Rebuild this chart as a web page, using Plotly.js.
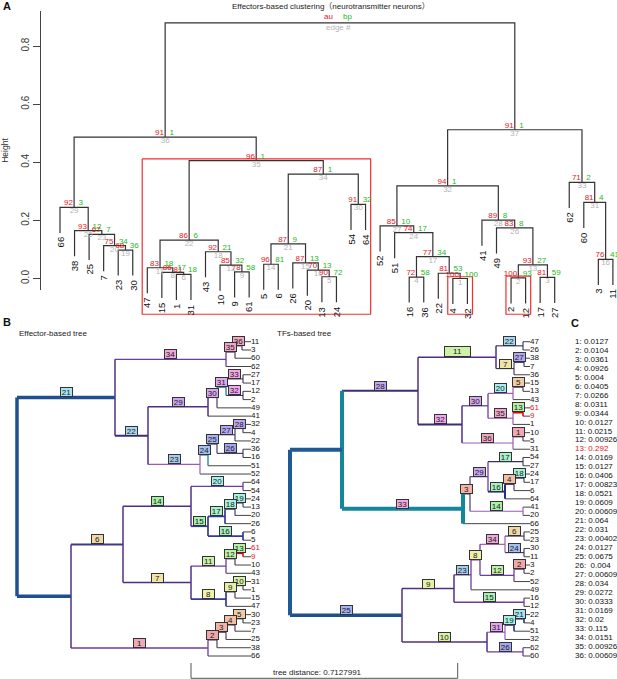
<!DOCTYPE html>
<html><head><meta charset="utf-8">
<script src="https://cdn.plot.ly/plotly-3.0.1.min.js"></script>
<style>html,body{margin:0;padding:0;background:#fff}#chart{width:617px;height:679px}</style>
</head><body><div id="chart"></div>
<script>
// ================= DATA =================
// Panel A: pvclust dendrogram. Merge table (R hclust style: negative = leaf label), row i = edge i
const aMerge = [
 [-4,-32],[-2,-12],[-17,-27],[-16,-36],[-13,-24],[-1,-31],[-22,1],[-15,6],[-9,-61],[-20,5],
 [-47,8],[-10,9],[2,3],[-5,-6],[-26,10],[-3,-11],[4,7],[-43,12],[-23,-30],[-7,19],
 [14,15],[11,18],[-25,20],[-51,17],[-38,23],[-49,13],[-52,24],[-41,26],[-66,25],[-54,-64],
 [-60,16],[27,28],[-62,31],[21,30],[22,34],[29,35],[32,33],[36,37]
];
const aHeight = [0.000,0.002,0.004,0.005,0.006,0.014,0.018,0.021,0.023,0.029,
 0.037,0.046,0.047,0.049,0.054,0.066,0.075,0.092,0.098,0.113,
 0.119,0.132,0.152,0.158,0.165,0.174,0.181,0.201,0.245,0.255,
 0.262,0.319,0.331,0.359,0.406,0.487,0.512,0.880];
const aAU = [100,100,81,72,90,81,81,86,78,70, 83,85,93,96,87,76,77,92,68,75, 87,86,67,74,93,83,85,89,92,91, 81,94,71,87,96,91,91];
const aBP = [100,93,59,58,72,18,53,17,58,13, 18,32,27,81,13,41,34,21,36,34, 9,6,7,17,12,8,10,8,3,32, 4,1,2,1,1,1,1];
const aTitle = 'Effectors-based clustering（neurotransmitter neurons）';
const aTicks = [0, 0.2, 0.4, 0.6, 0.8];

// Panel B: trees. Rows: [node, childA, childB, branch length]; numbers = leaves, strings = internal nodes
const effectorNodes = [
 ['#36',11,3,0.07],['#35','#36',60,0.09],['#34','#35',62,1.11],
 ['#33',27,17,0.17],['#32',12,2,0.17],['#31','#33','#32',0.09],['#30','#31',49,0.09],['#29','#30',41,0.60],
 ['#28',32,4,0.08],['#27','#28',22,0.18],['#26',36,16,0.26],['#25','#27','#26',0.09],['#24','#25',51,0.08],['#23','#24',52,0.52],
 ['#22','#29','#23',0.33],['#21','#34','#22',0.98],
 ['#20',64,54,0.52],['#19',24,13,0.08],['#18','#19',20,0.10],['#17','#18',26,0.17],['#16',6,5,0.35],['#15','#17','#16',0.17],['#14','#20','#15',0.68],
 ['#13',61,9,0.08],['#12','#13',10,0.09],['#11','#12',43,0.35],['#10',31,1,0.08],['#9','#10',15,0.09],['#8','#9',47,0.35],['#7','#11','#8',0.68],
 ['#6','#14','#7',0.52],
 ['#5',30,23,0.08],['#4','#5',7,0.09],['#3','#4',25,0.09],['#2','#3',38,0.09],['#1','#2',66,1.37],
 ['lo','#6','#1',0.54],['root','#21','lo',0]
];
const tfNodes = [
 ['#22',47,26,0.27],['#27',38,7,0.10],['#7','#27',36,0.18],['#11','#22','#7',0.78],
 ['#5',15,13,0.10],['#20','#5',43,0.25],['#13',61,9,0.10],['#35','#13',1,0.25],['#30','#20','#35',0.26],
 ['#1',10,5,0.10],['#36','#1',31,0.51],['#32','#30','#36',0.44],['#28','#11','#32',0.76],
 ['#17',54,27,0.35],['#18',24,17,0.10],['#4','#18',6,0.09],['#16','#4',64,0.17],['#29','#17','#16',0.18],
 ['#14',41,20,0.53],['#3','#29','#14',0.07],['#33','#3',66,1.21],['up','#28','#33',0.52],
 ['#6',25,23,0.19],['#24',30,11,0.19],['#34','#6','#24',0.25],['#2',3,2,0.10],['#12','#2',52,0.34],
 ['#8','#34','#12',0.09],['#23','#8',49,0.17],['#15',16,12,0.70],['#9','#23','#15',0.52],
 ['#21',22,4,0.10],['#19','#21',51,0.09],['#31','#19',32,0.18],['#26',62,60,0.36],['#10','#31','#26',0.85],
 ['#25','#9','#10',1.12],['root','up','#25',0]
];
const highlightLeaves = [61, 9];
const treeDistance = '0.7127991';

// Panel C: per-edge values
const cValues = ['0.0127','0.0104','0.0361','0.0926','0.004','0.0405','0.0266','0.0311','0.0344','0.0127',
 '0.0215','0.00926','0.292','0.0169','0.0127','0.0406','0.00823','0.0521','0.0609','0.00609',
 '0.064','0.031','0.00402','0.0127','0.0675','\u00a00.004','0.00609','0.034','0.0272','0.0333',
 '0.0169','0.02','0.115','0.0151','0.00926','0.00609'];
const cHighlight = 13;

// ================= STYLE / GEOMETRY =================
const W = 617, H = 679;
const FONT = 'Liberation Sans, Arial, Noto Sans CJK SC, sans-serif';
const RED = '#e8141c', GREEN = '#22b922', GRAY = '#b4b4b4';
const pY = py => 1 - py / H, pX = px => px / W;
// Panel A scale
const A_X0 = 60, A_DX = 14.55, A_Y0 = 278.5, A_SY = 290.5;
const AU_DX = 0.08, BP_DX = 0.3;
// Panel B scale
const B_Y0 = 341.7, B_DY = 8.271, B_TOP = 330;
const C_Y0 = 341.7, C_DY = 8.98;

const BLUE = {c:'#1f4f8f', w:3.5}, BLUE4 = {c:'#1f5a96', w:4}, TEAL = {c:'#14879b', w:4};
const P1 = {c:'#3b2e78', w:2}, P2 = {c:'#4f2f86', w:1.5}, P3 = {c:'#6b3d9e', w:1.3}, P4 = {c:'#9a5cb8', w:1.2};
const BP = {c:'#343a96', w:1.7}, REDL = {c:'#e00000', w:3};
const DEF_INT = {c:'#3a2e58', w:1.1}, DEF_LEAF = {c:'#444', w:1};
const effStyle = {
 h: {'#21':BLUE, 'lo':BLUE, '#34':P3, '#22':P1, '#29':P2, '#23':P4, '#6':{c:'#3c3a8c',w:2}, '#14':P2, '#7':P2,
     '#1':P3, '#15':BP, '#16':BP, '#8':BP, '#11':P3, '#20':P3, '#13':REDL, '#17':BP, '#24':{c:'#2a8a9a',w:1.4}, '#31':{c:'#2a8a9a',w:1.4}},
 v: {'root':BLUE, '#21':P2, '#22':P2, 'lo':P2, '#6':P2, '#13':{c:'#e00000',w:1.5}, '#14':P2, '#7':P2}
};
const tfStyle = {
 h: {'up':BLUE4, '#25':BLUE, '#33':TEAL, '#28':P1, '#11':P2, '#32':P1, '#30':P3, '#36':P4, '#9':P2, '#10':P2,
     '#29':P3, '#16':{c:'#2a2a8a',w:2}, '#14':P4, '#23':P3, '#8':P3, '#34':P4, '#12':P3, '#15':P3, '#31':P4, '#26':P3,
     '#19':BP, '#21':BP, '#13':REDL, '#35':P4, '#20':P4},
 v: {'root':BLUE4, 'up':TEAL, '#28':P2, '#25':P2, '#9':P2, '#10':P2, '#32':P2, '#13':{c:'#e00000',w:1.5}}
};
const boxSize = {eff:{}, tf:{'#11':[25,9]}};
const boxColor = n => `hsl(${(10*(n-1) - 10 + 360) % 360}, 72%, 80%)`;

// ================= PANEL A =================
const traces = [], annotations = [], shapes = [];
const hang = 0.1 * Math.max(...aHeight);
const order = [];
(function walk(m){ if (m < 0) order.push(-m); else { walk(aMerge[m-1][0]); walk(aMerge[m-1][1]); } })(aMerge.length);
const leafPos = {}; order.forEach((l, i) => leafPos[l] = i + 1);
const nodeX = [], leafEnd = {};
const dA = {x:[], y:[]};
for (let m = 1; m <= aMerge.length; m++) {
  const h = aHeight[m-1];
  const pts = aMerge[m-1].map(c => c < 0 ? {x:leafPos[-c], y:h - hang, leaf:-c} : {x:nodeX[c], y:aHeight[c-1]});
  nodeX[m] = (pts[0].x + pts[1].x) / 2;
  pts.forEach(p => { if (p.leaf) leafEnd[p.leaf] = p.y; });
  dA.x.push(pts[0].x, pts[0].x, pts[1].x, pts[1].x, null);
  dA.y.push(pts[0].y, h, h, pts[1].y, null);
}
traces.push({type:'scatter', mode:'lines', x:dA.x, y:dA.y, xaxis:'x', yaxis:'y', line:{color:'#333', width:1.2}, hoverinfo:'skip'});
// pvrect boxes (au >= 95, largest clusters only)
function members(m){ return m < 0 ? [-m] : [...members(aMerge[m-1][0]), ...members(aMerge[m-1][1])]; }
const seen = new Set(), rect = {x:[], y:[]};
const RX = 0.35, RY = 0.006, RB = -0.123;
for (let m = aAU.length; m >= 1; m--) {
  if (aAU[m-1] >= 95) {
    const mem = members(m);
    const skip = mem.some(l => seen.has(l));
    mem.forEach(l => seen.add(l));
    if (skip) continue;
    const ps = mem.map(l => leafPos[l]);
    const xl = Math.min(...ps) - RX, xr = Math.max(...ps) + RX, yt = aHeight[m-1] + RY;
    rect.x.push(xl, xr, xr, xl, xl, null); rect.y.push(yt, yt, RB, RB, yt, null);
  }
}
traces.push({type:'scatter', mode:'lines', x:rect.x, y:rect.y, xaxis:'x', yaxis:'y', line:{color:'#f03030', width:1.2}, hoverinfo:'skip'});
const eIdx = aAU.map((_, i) => i + 1);
const nx = eIdx.map(m => nodeX[m]), ny = eIdx.map(m => aHeight[m-1]);
traces.push({type:'scatter', mode:'text', x:nx.map(v => v - AU_DX), y:ny, text:aAU.map(String), textposition:'top left', xaxis:'x', yaxis:'y5', cliponaxis:false, textfont:{size:8, color:RED}, hoverinfo:'skip'});
traces.push({type:'scatter', mode:'text', x:nx.map(v => v + BP_DX), y:ny, text:aBP.map(String), textposition:'top right', xaxis:'x', yaxis:'y5', cliponaxis:false, textfont:{size:8, color:GREEN}, hoverinfo:'skip'});
traces.push({type:'scatter', mode:'text', x:nx, y:ny, text:eIdx.map(String), textposition:'bottom center', xaxis:'x', yaxis:'y5', cliponaxis:false, textfont:{size:8, color:GRAY}, hoverinfo:'skip'});
order.forEach(l => annotations.push({xref:'x', yref:'y', x:leafPos[l], y:leafEnd[l], text:String(l), textangle:-90,
  xanchor:'center', yanchor:'top', yshift:-2, showarrow:false, font:{size:9.5, color:'#111'}}));

// ================= PANEL B =================
function drawTree(rows, style, sizes, tipX, xa) {
  const map = {}; rows.forEach(r => map[r[0]] = r);
  const segs = [], leaves = [], boxes = [];
  let k = 0;
  function walk(id, parentX) {
    if (typeof id === 'number') { k++; leaves.push({label:id, y:k}); return {y:k, x:tipX}; }
    const r = map[id], x = parentX + r[3];
    const a = walk(r[1], x), b = walk(r[2], x);
    const vs = style.v[id] || style.h[id] || DEF_INT;
    segs.push({x0:x, y0:a.y, x1:x, y1:b.y, s:vs});
    [[r[1], a], [r[2], b]].forEach(([cid, c]) => {
      const hs = typeof cid === 'number' ? DEF_LEAF : (style.h[cid] || DEF_INT);
      segs.push({x0:x, y0:c.y, x1:c.x, y1:c.y, s:hs});
    });
    const y = (a.y + b.y) / 2;
    if (id[0] === '#') boxes.push({n:+id.slice(1), id, x:(parentX + x) / 2, y});
    return {x, y};
  }
  walk(rows[rows.length-1][0], 0);
  const groups = {};
  segs.forEach(sg => {
    const key = sg.s.c + '|' + sg.s.w;
    const g = groups[key] || (groups[key] = {s:sg.s, x:[], y:[]});
    g.x.push(sg.x0, sg.x1, null); g.y.push(sg.y0, sg.y1, null);
  });
  Object.values(groups).sort((p, q) => p.s.w - q.s.w).forEach(g => traces.push({type:'scatter', mode:'lines', x:g.x, y:g.y,
    xaxis:xa, yaxis:'y2', line:{color:g.s.c, width:g.s.w}, hoverinfo:'skip'}));
  traces.push({type:'scatter', mode:'text', x:leaves.map(() => tipX), y:leaves.map(l => l.y), text:leaves.map(l => String(l.label)),
    textposition:'middle right', xaxis:xa, yaxis:'y2', cliponaxis:false,
    textfont:{size:8, color:leaves.map(l => highlightLeaves.includes(l.label) ? RED : '#111')}, hoverinfo:'skip'});
  boxes.forEach(b => {
    const sz = sizes[b.id] || [11, 8];
    annotations.push({xref:xa, yref:'y2', x:b.x, y:b.y, text:String(b.n), showarrow:false, xanchor:'center', yanchor:'bottom',
      width:sz[0], height:sz[1], bgcolor:boxColor(b.n), bordercolor:'#333', borderwidth:1, borderpad:0,
      font:{size:8, color:'#1a1a1a'}});
  });
}
drawTree(effectorNodes, effStyle, boxSize.eff, 2.34, 'x2');
drawTree(tfNodes, tfStyle, boxSize.tf, 2.40, 'x3');

// ================= PANEL C =================
traces.push({type:'scatter', mode:'text', x:cValues.map(() => 575), y:cValues.map((_, i) => i + 1),
  text:cValues.map((v, i) => `${i + 1}: ${v}`), textposition:'middle right', xaxis:'x4', yaxis:'y4', cliponaxis:false,
  textfont:{size:8, color:cValues.map((_, i) => i + 1 === cHighlight ? RED : '#111')}, hoverinfo:'skip'});

// ================= TEXT / DECOR =================
const txt = (x, y, t, o) => annotations.push(Object.assign({xref:'paper', yref:'paper', x:pX(x), y:pY(y), text:t, showarrow:false,
  xanchor:'left', yanchor:'middle', font:{size:8, color:'#222'}}, o || {}));
txt(1, 6, '<b>A</b>', {font:{size:11, color:'#111'}});
txt(331, 7, aTitle, {xanchor:'center'});
txt(335, 16, 'au', {xanchor:'right', font:{size:8, color:RED}});
txt(341, 16, 'bp', {font:{size:8, color:GREEN}});
txt(338, 28, 'edge #', {xanchor:'center', font:{size:8, color:GRAY}});
txt(1, 322, '<b>B</b>', {font:{size:11, color:'#111'}});
txt(569, 322.5, '<b>C</b>', {font:{size:11, color:'#111'}});
txt(17, 333, 'Effector-based tree');
txt(275, 333, 'TFs-based tree');
txt(318, 672, 'tree distance: ' + treeDistance, {xanchor:'center'});
shapes.push({type:'path', xref:'paper', yref:'paper',
  path:`M${pX(191)},${pY(663)} L${pX(191)},${pY(678.3)} L${pX(457.7)},${pY(678.3)} L${pX(457.7)},${pY(663)}`,
  line:{color:'#555', width:1}});

const layout = {
  width:W, height:H, margin:{l:0, r:0, t:0, b:0}, paper_bgcolor:'#fff', plot_bgcolor:'rgba(0,0,0,0)',
  font:{family:FONT, size:8, color:'#222'}, showlegend:false, hovermode:false,
  xaxis:{domain:[0,1], range:[1 - A_X0/A_DX, 1 + (W - A_X0)/A_DX], visible:false, anchor:'y'},
  yaxis:{domain:[pY(330), 1], range:[(A_Y0 - 330)/A_SY, A_Y0/A_SY], visible:false, anchor:'x'},
  yaxis5:{domain:[pY(290), pY(11)], range:[(A_Y0 - 290)/A_SY, (A_Y0 - 11)/A_SY], anchor:'free', position:pX(40),
    showline:true, linecolor:'#444', linewidth:1.2, ticks:'outside', ticklen:7, tickwidth:1.2, tickcolor:'#444',
    tickvals:aTicks, tickformat:'.1f', tickangle:-90, tickfont:{size:10, color:'#333'}, showgrid:false, zeroline:false,
    title:{text:'Height', font:{size:8.5, color:'#333'}, standoff:8}},
  xaxis2:{domain:[0,1], range:[-0.17, (W - 17)/100], visible:false, anchor:'y2'},
  xaxis3:{domain:[0,1], range:[-2.90, (W - 290)/100], visible:false, anchor:'y2'},
  yaxis2:{domain:[0, pY(B_TOP)], range:[1 + (H - B_Y0)/B_DY, 1 + (B_TOP - B_Y0)/B_DY], visible:false, anchor:'x2'},
  xaxis4:{domain:[0,1], range:[0, W], visible:false, anchor:'y4'},
  yaxis4:{domain:[0, pY(B_TOP)], range:[1 + (H - C_Y0)/C_DY, 1 + (B_TOP - C_Y0)/C_DY], visible:false, anchor:'x4'},
  annotations, shapes
};
Plotly.newPlot('chart', traces, layout, {staticPlot:true, displayModeBar:false});
</script></body></html>
